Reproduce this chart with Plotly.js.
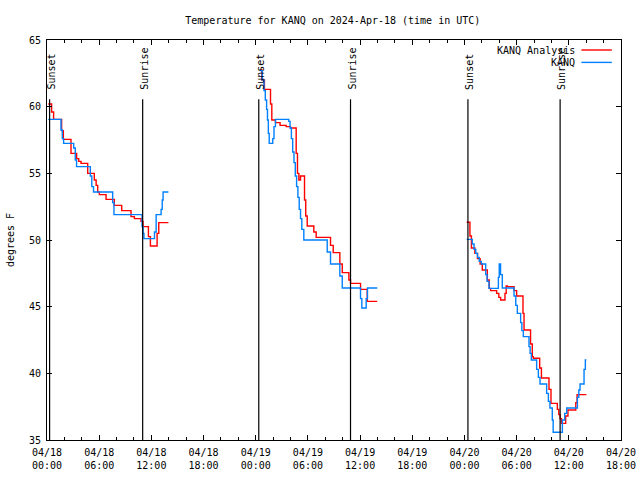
<!DOCTYPE html>
<html><head><meta charset="utf-8">
<script src="https://cdn.plot.ly/plotly-3.0.1.min.js"></script>
<style>html,body{margin:0;padding:0;background:#fff}#chart{width:640px;height:480px}</style>
</head><body><div id="chart"></div><script>
// Hours since 2024-04-18 00:00 UTC, temperatures in degrees F
const analysisHours1 = [0.15,0.53,0.76,1.68,1.88,2.76,3.41,3.65,3.91,4.68,5.44,5.65,5.83,6.02,6.79,7.74,8.59,9.66,10.05,10.81,11.04,11.66,11.89,12.66,12.85,13.96];
const analysisTemps1 = [60.2,59.6,59.05,58.2,57.55,56.5,56.1,55.9,55.75,55.0,54.5,54.1,53.6,53.4,53.05,52.6,52.2,51.75,51.6,51.4,51.0,50.25,49.55,50.5,51.3,51.3];
const analysisHours2 = [24.5,24.7,25.0,25.7,25.85,26.27,26.8,27.5,28.0,28.65,28.8,28.96,29.15,29.61,29.75,29.92,30.68,30.95,32.6,32.91,33.67,33.95,34.71,34.9,36.05,36.82,37.97];
const analysisTemps2 = [62.75,62.0,61.3,60.2,59.0,58.8,58.6,58.5,58.4,56.5,55.0,54.5,54.8,53.0,51.8,51.05,50.6,50.2,49.6,49.05,48.2,47.55,47.0,46.75,46.3,45.4,45.4];
const analysisHours3 = [48.25,48.63,48.8,49.2,49.5,49.8,50.05,50.63,50.85,51.0,51.7,51.95,52.16,52.66,52.8,52.93,53.7,54.0,54.73,54.85,55.6,55.8,55.92,56.65,56.85,57.72,57.95,58.68,58.85,59.0,59.15,59.64,59.9,60.8,60.95,62.02];
const analysisTemps3 = [51.33,50.3,49.4,49.0,48.6,48.2,47.75,47.0,46.37,46.2,46.0,45.7,45.5,46.0,46.55,46.5,46.2,45.8,44.5,43.25,42.2,41.25,41.13,40.4,39.65,38.8,37.75,37.3,36.9,36.6,36.25,36.8,37.25,37.8,38.4,38.4];

const obsHours1 = [0.15,1.61,1.76,1.91,3.07,3.25,3.40,4.98,5.15,5.35,7.55,7.70,10.93,11.05,11.15,12.36,12.55,13.12,13.25,13.35,13.96];
const obsTemps1 = [59.05,58.25,57.6,57.25,56.9,56.0,55.5,54.8,54.0,53.6,52.8,51.9,51.0,50.5,50.1,50.6,51.9,52.3,53.0,53.6,53.6];
const obsHours2 = [24.47,24.75,24.95,25.1,25.25,25.35,25.45,25.55,25.96,26.1,26.27,27.8,27.95,28.1,28.25,28.4,28.55,28.7,28.85,29.0,29.15,29.3,29.53,32.22,32.6,33.67,33.95,36.05,36.2,36.7,36.85,37.97];
const obsTemps2 = [62.7,62.0,61.2,60.5,59.8,59.0,58.0,57.25,57.6,58.5,59.05,58.9,58.4,57.6,56.6,55.8,54.8,54.0,53.2,52.3,51.6,50.8,50.0,49.1,48.2,47.3,46.4,45.6,44.9,45.6,46.4,46.4];
const obsHours3 = [48.25,48.9,49.1,49.3,49.5,49.7,49.94,50.44,50.6,50.82,51.9,52.0,52.15,52.35,53.7,53.9,54.08,54.46,54.6,54.77,55.42,55.55,55.69,56.3,56.5,56.69,57.45,57.65,57.83,58.1,58.2,59.26,59.53,59.76,60.99,61.15,61.29,61.75,61.9,62.02];
const obsTemps3 = [50.05,49.7,49.3,49.0,48.7,48.4,48.2,47.4,46.9,46.37,47.2,48.2,47.4,46.4,45.8,45.1,44.5,43.8,43.2,42.75,42.0,41.5,41.0,40.3,39.7,39.2,38.5,37.9,37.4,36.5,35.58,36.5,37.0,37.4,38.2,38.75,39.2,40.3,41.0,41.0];

const sunHours = [0.3, 11.0, 24.35, 34.9, 48.4, 59.0];
const sunLabels = ["Sunset","Sunrise","Sunset","Sunrise","Sunset","Sunrise"];

const tickVals = [0,6,12,18,24,30,36,42,48,54,60,66];
const tickText = ["04/18<br>00:00","04/18<br>06:00","04/18<br>12:00","04/18<br>18:00","04/19<br>00:00","04/19<br>06:00","04/19<br>12:00","04/19<br>18:00","04/20<br>00:00","04/20<br>06:00","04/20<br>12:00","04/20<br>18:00"];
const yTicks = [35,40,45,50,55,60,65];
const seriesNames = ["KANQ Analysis","KANQ"];
const seriesColors = ["#ff0000","#0080ff"];

function joinSegs(a,b,c){ return a.concat([null], b, [null], c); }

const FONT = "DejaVu Sans Mono, monospace";
const traces = [
  {x: joinSegs(analysisHours1, analysisHours2, analysisHours3), y: joinSegs(analysisTemps1, analysisTemps2, analysisTemps3),
   mode:"lines", line:{color:seriesColors[0], width:1.4, shape:"hv"}, name:seriesNames[0], connectgaps:false, hoverinfo:"skip"},
  {x: joinSegs(obsHours1, obsHours2, obsHours3), y: joinSegs(obsTemps1, obsTemps2, obsTemps3),
   mode:"lines", line:{color:seriesColors[1], width:1.4, shape:"hv"}, name:seriesNames[1], connectgaps:false, hoverinfo:"skip"}
];

const shapes = [];
const annotations = [];
sunHours.forEach((h,i)=>{
  shapes.push({type:"line", xref:"x", yref:"paper", x0:h, x1:h, y0:0, y1:0.852, line:{color:"#000", width:1.2}});
  annotations.push({x:h, xref:"x", y:0.87, yref:"paper", text:sunLabels[i], textangle:-90, showarrow:false,
    xanchor:"center", yanchor:"bottom", xshift:1, font:{family:FONT, size:10, color:"#000"}});
});
// gnuplot-style key: text right, line sample to its right
const keyY = [0.975, 0.944];
seriesNames.forEach((n,i)=>{
  annotations.push({x:0.923, xref:"paper", y:keyY[i], yref:"paper", text:n, showarrow:false, xanchor:"right", yanchor:"middle",
    font:{family:FONT, size:10, color:"#000"}});
  shapes.push({type:"line", xref:"paper", yref:"paper", x0:0.931, x1:0.984, y0:keyY[i], y1:keyY[i], line:{color:seriesColors[i], width:1.4}});
});

const layout = {
  width:640, height:480,
  margin:{l:47, r:19, t:40, b:40},
  paper_bgcolor:"#fff", plot_bgcolor:"#fff",
  font:{family:FONT, size:10, color:"#000"},
  showlegend:false,
  title:{text:"Temperature for KANQ on 2024-Apr-18 (time in UTC)", x:0.52, xanchor:"center", y:0.958, yanchor:"middle", font:{family:FONT, size:10, color:"#000"}},
  xaxis:{range:[0,66], tickmode:"array", tickvals:tickVals, ticktext:tickText, ticks:"inside", ticklen:5, tickcolor:"#000",
    showline:true, linecolor:"#000", linewidth:1, mirror:"allticks", showgrid:false, zeroline:false, ticklabelstandoff:3,
    minor:{tickmode:"linear", tick0:0, dtick:2, ticks:"inside", ticklen:3, tickcolor:"#000", showgrid:false},
    tickfont:{family:FONT, size:10}, fixedrange:true},
  yaxis:{range:[35,65], tickmode:"array", tickvals:yTicks, ticks:"inside", ticklen:5, tickcolor:"#000",
    showline:true, linecolor:"#000", linewidth:1, mirror:"allticks", showgrid:false, zeroline:false, ticklabelstandoff:3,
    title:{text:"degrees F", standoff:12, font:{family:FONT, size:10}},
    tickfont:{family:FONT, size:10}, fixedrange:true},
  shapes:shapes, annotations:annotations
};
Plotly.newPlot("chart", traces, layout, {displayModeBar:false, staticPlot:true});
</script></body></html>
